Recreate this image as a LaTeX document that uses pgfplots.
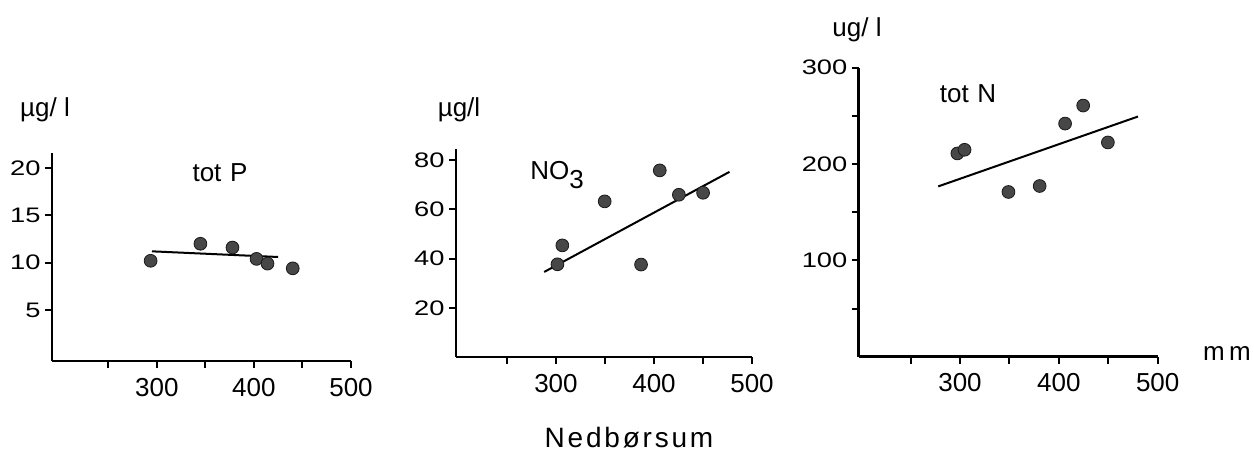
\documentclass[border=0pt]{standalone}
\usepackage{fontspec}
\setmainfont{Liberation Sans}
\newfontfamily\widefont[FakeStretch=1.3]{Liberation Sans}
\usepackage{pgfplots}
\pgfplotsset{compat=1.18}
\pgfplotsset{
 panel/.style={
  scale only axis,
  axis lines*=left,
  axis line style={line width=1.3pt, black},
  tick align=outside,
  major tick length=3.5pt,
  tick style={line width=1pt, black},
  xtick={250,300,350,400,450,500},
  xticklabels={,300,,400,,500},
  xmax=500,
  /pgf/number format/assume math mode=true,
  xticklabel style={font=\fontsize{13}{15}\selectfont, yshift=-1.5pt},
  yticklabel style={font=\widefont\fontsize{10.5}{12}\selectfont, inner sep=2pt},
  clip=false,
  anchor=south west,
 },
 pts/.style={only marks, mark=*, mark size=3.2pt, mark options={fill=black!72, draw=black!90, line width=0.4pt}},
 fit/.style={no marks, black, line width=1pt},
}
\begin{document}
\begin{tikzpicture}
\path[use as bounding box] (0,0) rectangle (627pt,225.5pt);
% Panel 1: tot P
\begin{axis}[panel, at={(26pt,45pt)}, width=149.5pt, height=104pt,
  xmin=192, ymin=-0.4, ymax=21.6, ytick={5,10,15,20}]
\addplot[pts] coordinates {(293.6,10.2) (344.9,12.0) (377.9,11.6) (402.7,10.4) (414,9.9) (440,9.4)};
\addplot[fit] coordinates {(295,11.2) (425,10.6)};
\end{axis}
% Panel 2: NO3
\begin{axis}[panel, at={(228pt,47pt)}, width=148pt, height=104pt,
  xmin=198, ymin=0, ymax=84.6, ytick={20,40,60,80}]
\addplot[pts] coordinates {(301.5,37.7) (306.5,45.4) (349.7,63.3) (386.8,37.6) (405.9,75.9) (425.4,66.0) (450.1,66.8)};
\addplot[fit] coordinates {(288,34.6) (477,75.3)};
\end{axis}
% Panel 3: tot N
\begin{axis}[panel, at={(429.35pt,47.15pt)}, width=149.5pt, height=144.5pt,
  xmin=197.5, ymin=0, ymax=300, ytick={50,100,150,200,250,300}, yticklabels={,100,,200,,300}]
\addplot[pts] coordinates {(297.3,211) (304.6,214.8) (349,171) (380.6,177.2) (406.3,242) (424.6,260.7) (449.6,222.4)};
\addplot[fit] coordinates {(278,176.8) (480,249.3)};
\end{axis}
\begin{scope}[every node/.style={font=\fontsize{13}{15}\selectfont, inner sep=0pt}]
\node at (22.5pt,170.5pt) {µg/ l};
\node at (229.5pt,170.5pt) {µg/l};
\node at (428.5pt,210.5pt) {ug/ l};
\node at (110pt,139pt) {tot\,\,P};
\node[anchor=base west] at (265pt,136pt) {NO\raisebox{-0.35em}{3}};
\node at (484pt,178.5pt) {tot\,\,N};
\node at (613.5pt,48.5pt) {m\,m};
\node[anchor=base, font=\fontsize{14}{16}\selectfont] at (314.5pt,2pt) {\addfontfeatures{LetterSpace=10}Nedbørsum};
\end{scope}
\end{tikzpicture}
\end{document}
